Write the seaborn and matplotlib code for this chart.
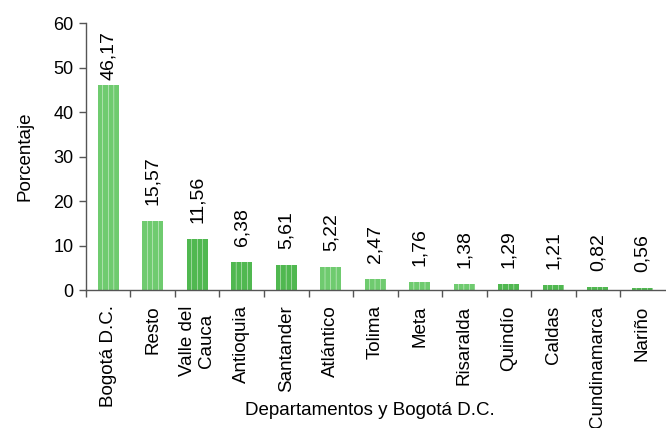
import matplotlib
matplotlib.use("Agg")
import matplotlib.pyplot as plt
import seaborn as sns
import numpy as np

# data
departamentos = ["Bogotá D.C.", "Resto", "Valle del\nCauca", "Antioquia", "Santander",
                 "Atlántico", "Tolima", "Meta", "Risaralda", "Quindío", "Caldas",
                 "Cundinamarca", "Nariño"]
porcentaje = [46.17, 15.57, 11.56, 6.38, 5.61, 5.22, 2.47, 1.76, 1.38, 1.29, 1.21, 0.82, 0.56]
etiquetas = ["46,17", "15,57", "11,56", "6,38", "5,61", "5,22", "2,47", "1,76",
             "1,38", "1,29", "1,21", "0,82", "0,56"]

light = "#6FCB6F"
dark = "#50B850"
colores = [light, light, dark, dark, dark, light, light, light, light, dark, dark, dark, dark]

sns.set_style("white")
plt.rcParams["font.family"] = ["Liberation Sans", "DejaVu Sans"]
plt.rcParams["text.color"] = "black"
plt.rcParams["axes.labelcolor"] = "black"
plt.rcParams["xtick.color"] = "black"
plt.rcParams["ytick.color"] = "black"
plt.rcParams["hatch.linewidth"] = 0.3
plt.rcParams["hatch.color"] = "#78CF78"

fig = plt.figure(figsize=(6.66, 4.28), dpi=100)
ax = fig.add_axes([0.129, 0.322, 0.869, 0.624])

idx = list(range(len(departamentos)))
sns.barplot(x=idx, y=porcentaje, hue=idx, palette=colores, legend=False,
            width=0.47, ax=ax, saturation=1, linewidth=0)
for p in ax.patches:
    p.set_hatch("|||")

for i, (v, t) in enumerate(zip(porcentaje, etiquetas)):
    ax.text(i, min(v + 3.6, 47.2), t, rotation=90, ha="center", va="bottom", fontsize=14)

ax.set_xlim(-0.5, len(departamentos) - 0.5)
ax.set_ylim(0, 60)
ax.set_yticks(range(0, 61, 10))
ax.tick_params(axis="y", labelsize=13, length=5, width=1, direction="out", left=True,
               color="#555555", pad=4)

ax.set_xticks(idx)
ax.set_xticklabels(departamentos, rotation=90, fontsize=13.5, va="top", ha="center", linespacing=1.15)
ax.tick_params(axis="x", which="major", length=0, pad=11)
ax.set_xticks(np.arange(-0.5, len(departamentos) - 0.5, 1), minor=True)
ax.tick_params(axis="x", which="minor", length=5, width=1, direction="out", bottom=True, color="#555555")

for s in ["top", "right"]:
    ax.spines[s].set_visible(False)
for s in ["left", "bottom"]:
    ax.spines[s].set_color("#555555")
    ax.spines[s].set_linewidth(1)

ax.set_ylabel("Porcentaje", fontsize=13.5)
ax.yaxis.set_label_coords(-0.09, 0.5)
ax.set_xlabel("Departamentos y Bogotá D.C.", fontsize=13.5)
ax.xaxis.set_label_coords(0.49, -0.42)

fig.savefig("out.png", dpi=100)
